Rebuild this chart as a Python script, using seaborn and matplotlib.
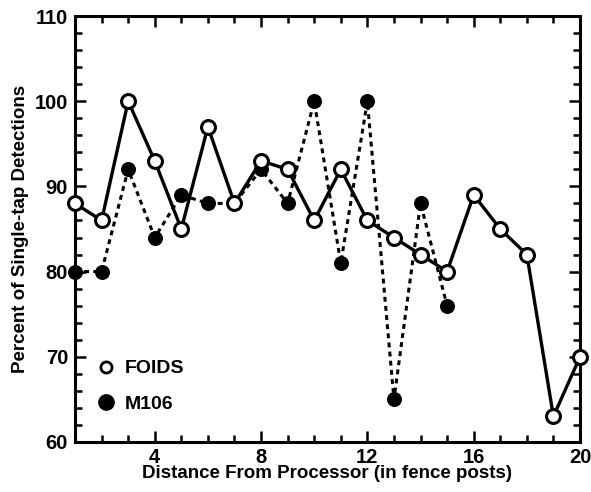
import numpy as np
import matplotlib
matplotlib.use("Agg")
import matplotlib.pyplot as plt
from matplotlib.lines import Line2D
from matplotlib.ticker import MultipleLocator
import seaborn as sns

# distances (fence posts) and detection percentages
foids_x = list(range(1, 21))
foids_y = [88, 86, 100, 93, 85, 97, 88, 93, 92, 86,
           92, 86, 84, 82, 80, 89, 85, 82, 63, 70]
m106_x = list(range(1, 16))
m106_y = [80, 80, 92, 84, 89, 88, 88, 92, 88, 100,
          81, 100, 65, 88, 76]

sns.set_style("ticks")
plt.rcParams["font.family"] = ["Liberation Sans", "DejaVu Sans"]
plt.rcParams["font.weight"] = "bold"
for k in ["text.color", "axes.labelcolor", "xtick.color", "ytick.color", "axes.edgecolor"]:
    plt.rcParams[k] = "black"

fig = plt.figure(figsize=(5.91, 4.92), dpi=100)
ax = fig.add_axes([75 / 591, 1 - 442 / 492, 505 / 591, 426 / 492])

sns.lineplot(x=m106_x, y=m106_y, ax=ax, color="black", linestyle=(0, (1.6, 1.4)),
             linewidth=2.2, marker="o", markersize=10, markerfacecolor="black",
             markeredgecolor="black", zorder=2, clip_on=False)
sns.lineplot(x=foids_x, y=foids_y, ax=ax, color="black", linewidth=2.4,
             marker="o", markersize=10, markerfacecolor="white",
             markeredgecolor="black", markeredgewidth=2.2, zorder=3, clip_on=False)

ax.set_xlim(1, 20)
ax.set_ylim(60, 110)
ax.xaxis.set_major_locator(MultipleLocator(4))
ax.xaxis.set_minor_locator(MultipleLocator(1))
ax.yaxis.set_major_locator(MultipleLocator(10))
ax.yaxis.set_minor_locator(MultipleLocator(2))
ax.tick_params(which="both", direction="in", top=True, right=True, width=1.8,
               labelsize=14.5)
ax.tick_params(axis="x", pad=4)
ax.tick_params(axis="y", pad=5)
ax.tick_params(which="major", length=8)
ax.tick_params(which="minor", length=5)
for s in ax.spines.values():
    s.set_linewidth(2.2)

ax.set_xlabel("Distance From Processor (in fence posts)", fontsize=13.5,
              fontweight="bold", labelpad=-1)
ax.set_ylabel("Percent of Single-tap Detections", fontsize=13.5,
              fontweight="bold", labelpad=4)

handles = [
    Line2D([], [], linestyle="none", marker="o", markersize=8,
           markerfacecolor="white", markeredgecolor="black", markeredgewidth=2),
    Line2D([], [], linestyle="none", marker="o", markersize=11,
           markerfacecolor="black", markeredgecolor="black"),
]
ax.legend(handles, ["FOIDS", "M106"], loc="lower left", frameon=False,
          bbox_to_anchor=(-0.005, 0.028), handletextpad=0.2, labelspacing=0.9,
          handlelength=1.6, prop={"size": 14, "weight": "bold"})

fig.savefig("out.png", dpi=100)
